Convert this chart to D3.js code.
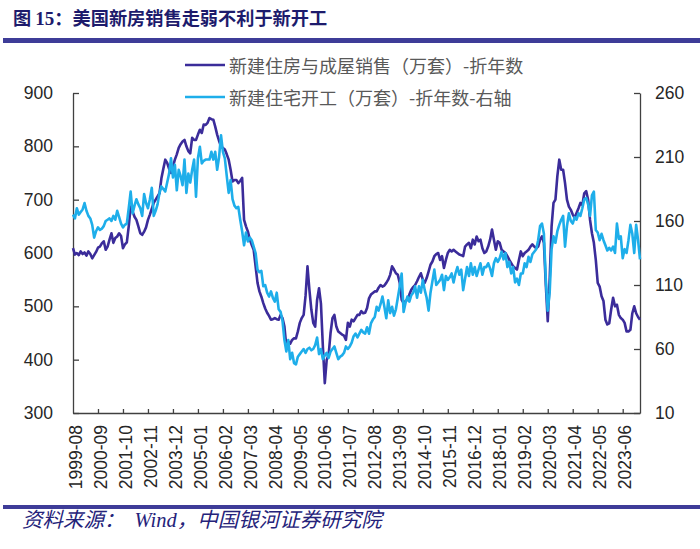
<!DOCTYPE html>
<html><head><meta charset="utf-8">
<script src="https://cdn.jsdelivr.net/npm/d3@7/dist/d3.min.js"></script>
<style>
html,body{margin:0;padding:0;background:#fff}
svg{display:block}
</style>
</head><body>
<svg id="chart" width="700" height="549"></svg>
<script>
// ---------- data ----------
const titleText = ["图 ", "15", "：美国新房销售走弱不利于新开工"];
const sourceText = ["资料来源：", "Wind", "，中国银河证券研究院"];
const seriesNames = ["新建住房与成屋销售（万套）-折年数", "新建住宅开工（万套）-折年数-右轴"];
const xTickLabels = ["1999-08","2000-09","2001-10","2002-11","2003-12","2005-01","2006-02","2007-03","2008-04","2009-05","2010-06","2011-07","2012-08","2013-09","2014-10","2015-11","2016-12","2018-01","2019-02","2020-03","2021-04","2022-05","2023-06"];
const leftTicks = [300,400,500,600,700,800,900];
const rightTicks = [10,60,110,160,210,260];
const firstMonth = "1999-08";

// new + existing home sales (万套, SAAR), monthly from 1999-08
const sales = [
609,597,600,596,603,598,601,595,603,598,
590,596,602,610,612,618,622,606,612,625,
637,619,628,631,637,632,609,616,620,650,
687,678,668,662,650,637,634,640,648,662,
672,683,694,700,706,712,740,758,775,769,
758,750,762,775,785,797,804,809,812,800,
791,787,816,812,812,822,831,825,841,840,
844,853,851,850,837,822,810,800,797,794,
785,775,756,734,737,737,731,735,741,662,
650,640,625,615,606,575,544,528,518,506,
496,488,482,475,476,478,476,475,484,478,
462,425,434,430,437,440,440,453,469,478,
484,520,575,531,494,469,462,512,534,505,
425,356,400,409,450,478,484,462,453,450,
447,445,437,469,462,475,472,478,484,484,
491,487,488,497,515,522,525,528,528,535,
540,537,539,544,550,559,575,569,562,559,
544,512,506,510,512,522,531,536,540,547,
555,562,550,544,553,565,578,584,594,598,
600,587,594,572,587,600,606,603,606,603,
600,597,596,594,612,616,619,609,625,616,
631,622,625,609,600,603,612,625,644,625,
606,622,619,606,603,600,594,587,581,575,
572,569,587,603,594,600,603,606,612,616,
612,609,612,625,631,619,540,472,550,650,
694,700,744,775,756,756,731,700,687,681,
672,666,675,684,694,690,712,716,700,662,
637,619,587,544,537,519,510,475,466,468,
494,516,500,503,484,478,475,469,453,453,
456,487,500,487,480,475
];

// housing starts (万套, SAAR), monthly from 1999-08 (right axis)
const starts = [
165,162,170,165,167,169,174,168,164,162,
157,147,152,155,153,154,156,160,161,162,
160,164,161,168,163,158,155,157,158,170,
183,166,172,177,173,170,164,181,174,170,
177,186,164,168,173,182,187,185,183,190,
197,209,194,204,184,200,195,188,208,182,
197,190,200,208,179,209,218,205,207,208,
208,208,214,208,214,200,210,227,214,209,
195,182,192,177,172,170,171,161,152,141,
151,144,147,145,140,135,122,120,121,109,
110,104,101,105,100,97,104,91,89,82,
67,58,67,52,57,49,48,54,56,58,
60,57,60,61,59,60,63,69,56,60,
52,55,57,53,58,60,62,57,52,54,
55,57,62,60,62,65,70,72,69,72,
75,73,72,77,72,80,83,85,93,90,
95,101,93,84,98,88,93,86,91,100,
109,119,89,96,101,97,102,104,109,100,
109,104,114,106,100,90,104,113,122,110,
112,114,118,106,117,114,116,119,112,119,
124,118,122,106,115,124,117,127,118,124,
117,122,127,118,124,124,127,123,117,127,
131,128,131,136,130,135,124,128,119,124,
112,115,110,119,119,127,124,132,128,134,
136,138,145,156,158,150,114,90,104,138,
148,143,152,157,161,164,140,156,166,160,
158,163,161,166,164,170,177,178,173,164,
180,183,153,151,145,150,145,141,137,139,
137,140,135,158,146,148,131,138,135,145,
157,150,135,157,145,130
];

// ---------- drawing ----------
const svg = d3.select("#chart");
const W = 700, H = 549;
const cSales = "#3b2c9a", cStarts = "#1eaeea";
const axisColor = "#404040", labelColor = "#262626";
const tickFont = "Liberation Sans, Arial, Helvetica, sans-serif";
const cjkFont = "'Noto Sans CJK SC', 'Noto Sans', sans-serif";
const plot = {left: 73, right: 640, top: 93, bottom: 413};

svg.append("rect").attr("width", W).attr("height", H).attr("fill", "#fff");

// title
const title = svg.append("text").attr("x", 13).attr("y", 25)
  .attr("fill", "#1d1b6c").attr("font-weight", "bold").attr("font-size", 18.2)
  .attr("font-family", cjkFont);
title.append("tspan").text(titleText[0]);
title.append("tspan").attr("font-family", "Liberation Serif, 'Times New Roman', serif").attr("font-size", 19).text(titleText[1]);
title.append("tspan").text(titleText[2]);

// top and bottom rules
svg.append("rect").attr("x", 3).attr("y", 38).attr("width", W - 3).attr("height", 5).attr("fill", "#3e3c98");
svg.append("rect").attr("x", 3).attr("y", 505).attr("width", W - 3).attr("height", 4).attr("fill", "#3e3c98");

// source
const src = svg.append("text").attr("x", 22).attr("y", 527)
  .attr("fill", "#25237a").attr("font-size", 20.5).attr("font-style", "italic")
  .attr("font-family", cjkFont);
src.append("tspan").text(sourceText[0]);
src.append("tspan").attr("font-family", "Liberation Serif, 'Times New Roman', serif").attr("dx", 10).text(sourceText[1]);
src.append("tspan").text(sourceText[2]);

// scales
const x = d3.scaleLinear().domain([0, sales.length - 1]).range([plot.left, plot.right]);
const yL = d3.scaleLinear().domain([d3.min(leftTicks), d3.max(leftTicks)]).range([plot.bottom, plot.top]);
const yR = d3.scaleLinear().domain([d3.min(rightTicks), d3.max(rightTicks)]).range([plot.bottom, plot.top]);

const [fy, fm] = firstMonth.split("-").map(Number);
const tickIdx = xTickLabels.map(s => { const [yy, mm] = s.split("-").map(Number); return (yy - fy) * 12 + (mm - fm); });

function styleAxis(g) {
  g.select(".domain").attr("stroke", axisColor).attr("stroke-width", 1.3);
  g.selectAll(".tick line").attr("stroke", axisColor).attr("stroke-width", 1.3);
  g.selectAll(".tick text").attr("fill", labelColor).attr("font-size", 17.5).attr("font-family", tickFont);
}

// left axis
const gL = svg.append("g").attr("transform", `translate(${plot.left},0)`)
  .call(d3.axisLeft(yL).tickValues(leftTicks).tickSizeInner(-6).tickSizeOuter(0).tickPadding(20));
styleAxis(gL);
gL.attr("font-family", null).attr("font-size", null);

// right axis
const gR = svg.append("g").attr("transform", `translate(${plot.right},0)`)
  .call(d3.axisRight(yR).tickValues(rightTicks).tickSizeInner(-6).tickSizeOuter(0).tickPadding(15));
styleAxis(gR);
gR.attr("font-family", null).attr("font-size", null);

// bottom axis
const gX = svg.append("g").attr("transform", `translate(0,${plot.bottom})`)
  .call(d3.axisBottom(x).tickValues(tickIdx).tickFormat((d, i) => xTickLabels[i]).tickSizeInner(-4).tickSizeOuter(0));
styleAxis(gX);
gX.attr("font-family", null).attr("font-size", null);
gX.selectAll(".tick text")
  .attr("transform", "rotate(-90)")
  .attr("text-anchor", "end")
  .attr("x", -12).attr("y", 2).attr("dy", "0.35em");
gX.selectAll(".tick line").filter(d => d === 0).remove();

// lines
const lineL = d3.line().x((d, i) => x(i)).y(d => yL(d));
const lineR = d3.line().x((d, i) => x(i)).y(d => yR(d));
svg.append("path").datum(sales).attr("d", lineL).attr("fill", "none")
  .attr("stroke", cSales).attr("stroke-width", 2.6).attr("stroke-linejoin", "round");
svg.append("path").datum(starts).attr("d", lineR).attr("fill", "none")
  .attr("stroke", cStarts).attr("stroke-width", 2.6).attr("stroke-linejoin", "round");

// legend
const legendColors = [cSales, cStarts];
const lg = svg.append("g");
seriesNames.forEach((name, k) => {
  const yy = 65 + k * 32;
  lg.append("line").attr("x1", 185).attr("x2", 225).attr("y1", yy).attr("y2", yy)
    .attr("stroke", legendColors[k]).attr("stroke-width", 2.6);
  lg.append("text").attr("x", 229).attr("y", yy).attr("dominant-baseline", "central")
    .attr("font-family", cjkFont).attr("font-size", 18).attr("fill", "#595959").text(name);
});
</script>
</body></html>
